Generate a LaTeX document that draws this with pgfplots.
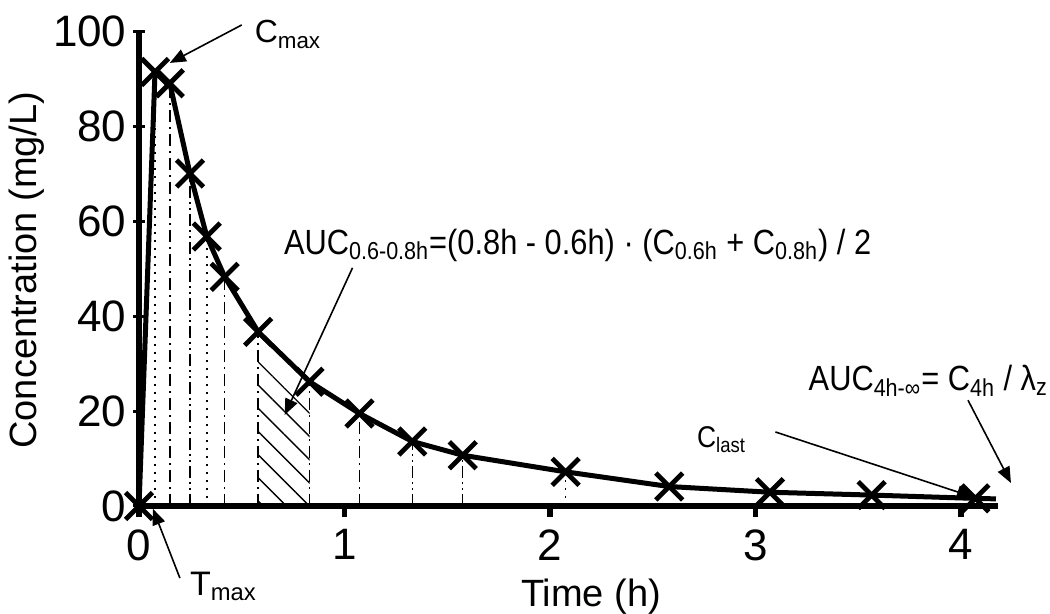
\documentclass[border=0pt]{standalone}
\usepackage{fontspec}
\setmainfont{Liberation Sans}
\newfontfamily\annfont[FakeStretch=0.88]{Liberation Sans}
\usepackage{pgfplots}
\usepackage{pgfplotstable}
\pgfplotsset{compat=1.18}
\usetikzlibrary{arrows.meta,patterns.meta}

% sampled plasma concentrations (time in h, concentration in mg/L)
\pgfplotstableread{
t C
0     0
0.078 91.5
0.150 89.1
0.248 70.1
0.330 56.8
0.417 48.3
0.580 36.7
0.830 26.2
1.073 19.5
1.330 13.6
1.575 10.7
2.076 7.2
2.580 4.1
3.070 2.9
3.565 2.3
4.070 1.6
}\conc

\tikzset{
  dropA/.style={line width=0.8pt, dash pattern=on 1pt off 3pt},
  dropB/.style={line width=0.8pt, dash pattern=on 6pt off 2.5pt on 1pt off 2.5pt},
  dropC/.style={line width=0.8pt, dash pattern=on 6pt off 2pt on 1pt off 2pt on 1pt off 2pt},
  ann/.style={-{Triangle[length=8pt,width=6.5pt]}, line width=0.8pt},
}

\begin{document}
\begin{tikzpicture}
\path[use as bounding box] (-69.5pt,-54pt) rectangle (455.5pt,253pt);
\begin{axis}[
  scale only axis, width=429.5pt, height=237.2pt,
  xmin=0, xmax=4.18, ymin=0, ymax=100,
  axis x line*=bottom, axis y line*=left,
  axis line style={line width=3pt},
  xtick={0,1,2,3,4}, ytick={0,20,40,60,80,100},
  xtick align=outside, ytick align=center,
  major tick length=5.5pt,
  xtick style={line width=2.75pt, black},
  ytick style={line width=1.5pt, black},
  tick label style={font=\fontsize{22}{24}\selectfont},
  xticklabel style={yshift=-5pt, inner sep=1pt},
  /pgf/number format/assume math mode=true,
  clip=false,
]
% hatched trapezoid between 0.58 h and 0.83 h
\addplot[draw=none, pattern={Lines[angle=-45,distance=8.2pt,line width=0.7pt]}]
  coordinates {(0.58,0) (0.58,31.2) (0.83,20.9) (0.83,0)} \closedcycle;

% vertical lines from the axis to each sample
\addplot[dropA] coordinates {(0.078,0) (0.078,91.5)};
\addplot[dropB] coordinates {(0.150,0) (0.150,89.1)};
\addplot[dropC] coordinates {(0.248,0) (0.248,70.1)};
\addplot[dropA] coordinates {(0.330,0) (0.330,56.8)};
\addplot[dropB] coordinates {(0.417,0) (0.417,48.3)};
\addplot[dropB] coordinates {(0.580,0) (0.580,36.7)};
\addplot[dropB] coordinates {(0.830,0) (0.830,26.2)};
\addplot[dropB] coordinates {(1.073,0) (1.073,19.5)};
\addplot[dropC] coordinates {(1.330,0) (1.330,13.6)};
\addplot[dropC] coordinates {(1.575,0) (1.575,10.7)};
\addplot[dropA] coordinates {(2.076,0) (2.076,7.2)};

% concentration-time curve
\addplot[line width=2.5pt, line join=round, mark=x, mark size=9.5pt,
  mark options={line width=2.4pt}] table[x=t,y=C] {\conc};
\addplot[line width=2.5pt, line join=round] coordinates {(4.07,1.6) (4.17,1.5)};

% annotations
\node[anchor=base west, font=\fontsize{16}{18}\selectfont] at (axis cs:0.529,97.6) {C\textsubscript{max}};
\draw[ann] (axis cs:0.50,101.4) -- (axis cs:0.150,93.4);
\node[anchor=base west, font=\fontsize{17}{19}\selectfont] at (axis cs:0.214,-18.8) {T\textsubscript{max}};
\draw[ann] (axis cs:0.199,-15.2) -- (axis cs:0.068,-0.6);
\node[anchor=base west, inner sep=0pt, font=\annfont\fontsize{17.5}{20}\selectfont] at (axis cs:0.704,53.1)
  {AUC\textsubscript{0.6-0.8h}=(0.8h - 0.6h) · (C\textsubscript{0.6h} + C\textsubscript{0.8h}) / 2};
\draw[ann] (axis cs:1.039,50.2) -- (axis cs:0.709,19.2);
\node[anchor=base west, inner sep=0pt, font=\annfont\fontsize{17.5}{20}\selectfont] at (axis cs:3.257,24.4)
  {AUC\textsubscript{4h-∞}= C\textsubscript{4h} / λ\textsubscript{z}};
\draw[ann] (axis cs:4.034,22.3) -- (axis cs:4.243,4.85);
\node[anchor=base west, inner sep=0pt, font=\annfont\fontsize{15}{17}\selectfont] at (axis cs:2.714,12.4) {C\textsubscript{last}};
\draw[ann] (axis cs:3.097,15.6) -- (axis cs:4.058,1.9);

% axis titles
\node[rotate=90, font=\fontsize{19}{21}\selectfont] at (axis cs:-0.549,49.7) {Concentration (mg/L)};
\node[inner sep=0pt, font=\fontsize{19}{21}\selectfont] at (axis cs:2.2,-19.2) {Time (h)};
\end{axis}
\end{tikzpicture}
\end{document}
